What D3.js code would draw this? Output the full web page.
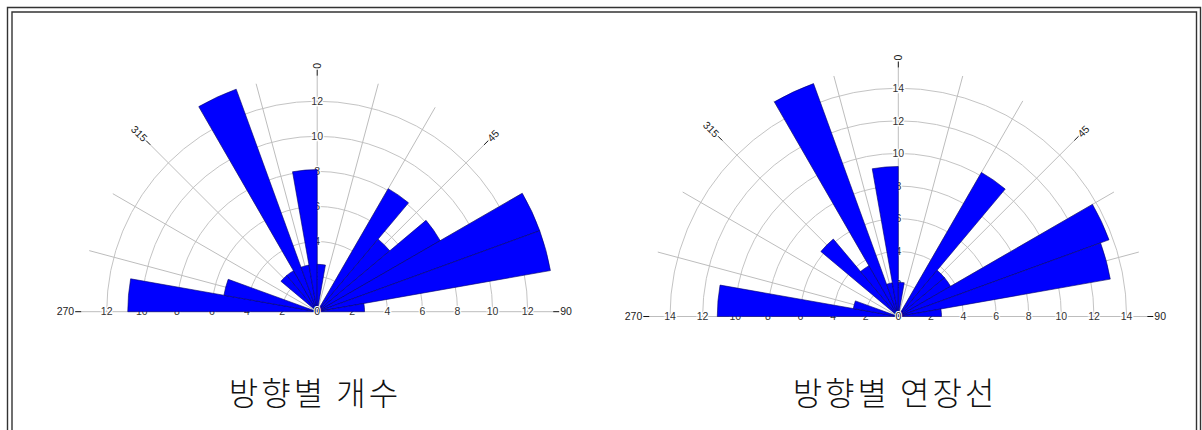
<!DOCTYPE html>
<html>
<head>
<meta charset="utf-8">
<script src="https://cdn.jsdelivr.net/npm/d3@7/dist/d3.min.js"></script>
<style>
  body { margin: 0; background: #fff; }
  svg { display: block; }
</style>
</head>
<body>
<svg id="chart"></svg>
<script>
// 10-degree direction bins, read clockwise from 270 through 0 to 90
const binStarts = [270, 280, 290, 300, 310, 320, 330, 340, 350, 0, 10, 20, 30, 40, 50, 60, 70, 80];
// left rose: share of joint count per direction (%)
const countValues = [10.8, 5.4, 0, 0, 2.7, 2.7, 13.5, 2.7, 8.1, 2.7, 0, 0, 8.1, 5.4, 8.1, 13.5, 13.5, 2.7];
// right rose: share of total length per direction (%)
const lengthValues = [11.1, 2.8, 0, 0, 6.2, 3.6, 15.2, 2.1, 9.2, 2.1, 0, 0, 10.2, 3.7, 3.7, 13.75, 13.2, 2.65];
const countTicks = [2, 4, 6, 8, 10, 12];
const lengthTicks = [2, 4, 6, 8, 10, 12, 14];
const spokeAngles = [270, 285, 300, 315, 330, 345, 0, 15, 30, 45, 60, 75, 90];
const labelAngles = [270, 315, 0, 45, 90];
const titles = ["방향별 개수", "방향별 연장선"];

const W = 1202, H = 430;
const svg = d3.select("#chart").attr("width", W).attr("height", H);

// page frame (double rule like the source document)
const frame = svg.append("g").attr("fill", "none").attr("stroke", "#333").attr("stroke-width", 1.4);
frame.append("path").attr("d", `M7.5,${H} V7.5 H1200.5 V${H}`);
frame.append("path").attr("d", `M12,${H} V12 H1196.5 V${H}`);

const rad = d => d * Math.PI / 180;
const pt = (deg, r) => [Math.sin(rad(deg)) * r, -Math.cos(rad(deg)) * r];

function buildRose(opts) {
    const g = svg.append("g").attr("transform", `translate(${opts.cx},${opts.cy})`);
    const ticks = opts.ticks;

    const r = d3.scaleLinear()
        .domain([0, d3.max(ticks)])
        .range([0, opts.ringR]);

    // rings, upper half only
    g.selectAll(".ring")
        .data(ticks)
        .enter()
        .append("path")
        .attr("d", d => {
            const p = d3.path();
            p.moveTo(-r(d), 0);
            p.arc(0, 0, r(d), Math.PI, 2 * Math.PI);
            return p.toString();
        })
        .attr("fill", "none")
        .attr("stroke", "#c4c4c4")
        .attr("stroke-width", 1);

    // spokes every 15 degrees
    g.selectAll(".spoke")
        .data(spokeAngles)
        .enter()
        .append("line")
        .attr("x1", 0).attr("y1", 0)
        .attr("x2", d => pt(d, opts.spokeR)[0])
        .attr("y2", d => pt(d, opts.spokeR)[1])
        .attr("stroke", "#bdbdbd")
        .attr("stroke-width", 1);

    // dark end ticks and direction labels
    g.selectAll(".endtick")
        .data(labelAngles)
        .enter()
        .append("line")
        .attr("x1", d => pt(d, opts.spokeR)[0])
        .attr("y1", d => pt(d, opts.spokeR)[1])
        .attr("x2", d => pt(d, opts.spokeR + 6)[0])
        .attr("y2", d => pt(d, opts.spokeR + 6)[1])
        .attr("stroke", "#111")
        .attr("stroke-width", 1);

    g.selectAll(".dirlabel")
        .data(labelAngles)
        .enter()
        .append("text")
        .attr("transform", d => {
            const [x, y] = pt(d, opts.spokeR + 7);
            const rot = d <= 90 ? d - 90 : d - 270;
            return `translate(${x},${y}) rotate(${rot})`;
        })
        .attr("text-anchor", d => d <= 90 ? "start" : "end")
        .attr("dy", "0.35em")
        .attr("font-family", "Liberation Sans, Arial, sans-serif")
        .attr("font-size", 10.5)
        .attr("fill", "#222")
        .text(d => d);

    // radial tick labels along the three axes
    const tickPos = [];
    ticks.forEach(t => {
        tickPos.push({ t, x: 0, y: -r(t) });
        tickPos.push({ t, x: -r(t), y: 0 });
        tickPos.push({ t, x: r(t), y: 0 });
    });
    g.selectAll(".ticklabel")
        .data(tickPos)
        .enter()
        .append("text")
        .attr("x", d => d.x)
        .attr("y", d => d.y)
        .attr("dy", "0.35em")
        .attr("text-anchor", "middle")
        .attr("font-family", "Liberation Sans, Arial, sans-serif")
        .attr("font-size", 10.5)
        .attr("fill", "#333")
        .attr("stroke", "#fff")
        .attr("stroke-width", 2.5)
        .attr("paint-order", "stroke")
        .text(d => d.t);

    // petals
    const arc = d3.arc()
        .innerRadius(0)
        .outerRadius(d => r(d.value))
        .startAngle(d => rad(d.start))
        .endAngle(d => rad(d.start + 10));

    const bins = binStarts.map((s, i) => ({ start: s, value: opts.values[i] }))
        .filter(d => d.value > 0);

    g.selectAll(".petal")
        .data(bins)
        .enter()
        .append("path")
        .attr("d", arc)
        .attr("fill", "#0000ff")
        .attr("stroke", "#00006a")
        .attr("stroke-width", 0.6);

    // centre zero on top
    g.append("text")
        .attr("x", 0).attr("y", 0)
        .attr("dy", "0.35em")
        .attr("text-anchor", "middle")
        .attr("font-family", "Liberation Sans, Arial, sans-serif")
        .attr("font-size", 10.5)
        .attr("fill", "#222")
        .attr("stroke", "#fff")
        .attr("stroke-width", 2)
        .attr("paint-order", "stroke")
        .text("0");

    svg.append("text")
        .attr("x", opts.titleX)
        .attr("y", 405)
        .attr("text-anchor", "middle")
        .attr("font-family", "Noto Sans CJK KR, sans-serif")
        .attr("font-size", 32)
        .attr("font-weight", 300)
        .attr("letter-spacing", 3)
        .attr("fill", "#111")
        .text(opts.title);
}

buildRose({ cx: 317.2, cy: 311.7, ringR: 210.5, spokeR: 236, ticks: countTicks, values: countValues, title: titles[0], titleX: 315 });
buildRose({ cx: 898.3, cy: 316.5, ringR: 228.3, spokeR: 249, ticks: lengthTicks, values: lengthValues, title: titles[1], titleX: 895 });
</script>
</body>
</html>
